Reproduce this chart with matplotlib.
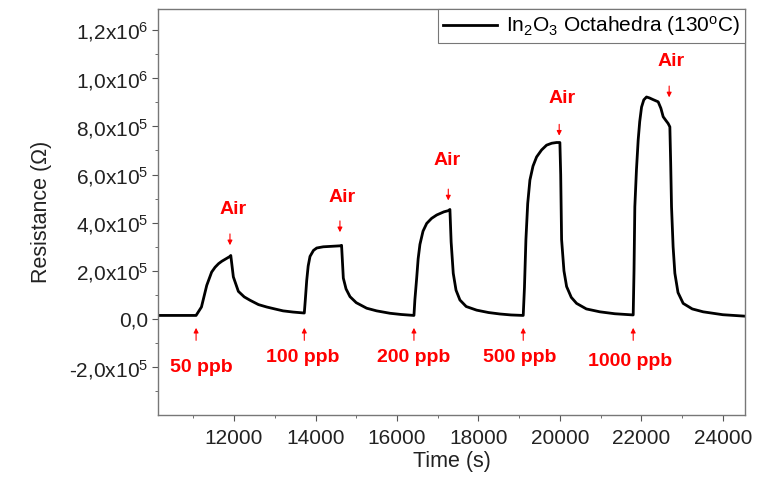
import numpy as np
import matplotlib
matplotlib.use("Agg")
import matplotlib.pyplot as plt

plt.rcParams['font.family'] = ['Liberation Sans', 'DejaVu Sans']
plt.rcParams['mathtext.fontset'] = 'custom'
plt.rcParams['mathtext.rm'] = 'Liberation Sans'
plt.rcParams['mathtext.it'] = 'Liberation Sans:italic'
plt.rcParams['mathtext.bf'] = 'Liberation Sans:bold'

# response curve
time = [10135, 11068, 11200, 11330, 11450, 11534, 11620, 11700, 11800, 11900, 11920,
        11983, 12106, 12250, 12393, 12600, 12802, 13000, 13203, 13450, 13725,
        13750, 13784, 13820, 13865, 13950, 14030, 14190, 14400, 14600, 14640,
        14683, 14750, 14847, 15000, 15256, 15500, 15828, 16100, 16417,
        16440, 16484, 16520, 16564, 16640, 16730, 16850, 16975, 17150, 17260, 17300,
        17330, 17382, 17450, 17546, 17700, 17955, 18250, 18528, 18800, 19100,
        19130, 19166, 19210, 19264, 19340, 19428, 19550, 19673, 19800, 19918, 20000,
        20020, 20042, 20100, 20165, 20280, 20410, 20650, 20982, 21350, 21800,
        21820, 21840, 21880, 21922, 21960, 22005, 22060, 22127, 22200, 22290, 22413,
        22480, 22536, 22600, 22658, 22700, 22720, 22741, 22780, 22823, 22900, 23027,
        23250, 23518, 24000, 24540]
resistance = [1.5e4, 1.5e4, 5e4, 1.4e5, 1.95e5, 2.15e5, 2.3e5, 2.4e5, 2.5e5, 2.6e5, 2.64e5,
              1.75e5, 1.15e5, 9.2e4, 7.8e4, 6e4, 5e4, 4.2e4, 3.4e4, 2.9e4, 2.5e4,
              8e4, 1.6e5, 2.2e5, 2.6e5, 2.85e5, 2.95e5, 3.0e5, 3.02e5, 3.04e5, 3.06e5,
              1.7e5, 1.25e5, 9.3e4, 6.8e4, 4.5e4, 3.4e4, 2.4e4, 1.9e4, 1.5e4,
              8e4, 1.7e5, 2.5e5, 3.1e5, 3.65e5, 3.97e5, 4.18e5, 4.32e5, 4.45e5, 4.5e5, 4.55e5,
              3.2e5, 1.9e5, 1.2e5, 7.9e4, 5.2e4, 3.7e4, 2.7e4, 2.1e4, 1.7e4, 1.5e4,
              1.3e5, 3.3e5, 4.8e5, 5.77e5, 6.35e5, 6.73e5, 7.02e5, 7.22e5, 7.3e5, 7.33e5, 7.33e5,
              6.0e5, 3.3e5, 2.0e5, 1.35e5, 9e4, 6.5e4, 4.2e4, 3e4, 2.2e4, 1.7e4,
              2.0e5, 4.66e5, 6.2e5, 7.43e5, 8.2e5, 8.8e5, 9.1e5, 9.22e5, 9.18e5, 9.11e5, 9.02e5,
              8.75e5, 8.4e5, 8.25e5, 8.12e5, 7.98e5, 6.5e5, 4.66e5, 3.0e5, 1.9e5, 1.1e5, 6.5e4,
              4.2e4, 3e4, 1.8e4, 1.2e4]

# gas-in markers
gas_labels = ['50 ppb', '100 ppb', '200 ppb', '500 ppb', '1000 ppb']
gas_arrow_x = [11068, 13725, 16417, 19100, 21800]
gas_text_x = [11190, 13693, 16417, 19018, 21718]
gas_text_y = [-2.03e5, -1.6e5, -1.6e5, -1.6e5, -1.75e5]

# air-in markers
air_arrow_x = [11900, 14600, 17260, 19983, 22683]
air_arrow_y = [2.95e5, 3.49e5, 4.81e5, 7.5e5, 9.09e5]
air_text_x = [11968, 14643, 17240, 20042, 22741]
air_text_y = [4.55e5, 5.05e5, 6.6e5, 9.16e5, 1.07e6]

yticks = [-2e5, 0, 2e5, 4e5, 6e5, 8e5, 1e6, 1.2e6]
ylabels = [r'-2,0x10$^{5}$', '0,0', r'2,0x10$^{5}$', r'4,0x10$^{5}$', r'6,0x10$^{5}$',
           r'8,0x10$^{5}$', r'1,0x10$^{6}$', r'1,2x10$^{6}$']
xticks = [12000, 14000, 16000, 18000, 20000, 22000, 24000]

fig = plt.figure(figsize=(7.6, 4.78), dpi=100)
ax = fig.add_axes([0.208, 0.132, 0.772, 0.849])

ax.plot(time, resistance, color='black', lw=2,
        label=r'In$_{2}$O$_{3}$ Octahedra (130$^{\mathrm{o}}$C)')

for lab, gx, tx, ty in zip(gas_labels, gas_arrow_x, gas_text_x, gas_text_y):
    ax.annotate('', xy=(gx, -2.5e4), xytext=(gx, -1.0e5),
                arrowprops=dict(arrowstyle='-|>', color='red', lw=0.8, mutation_scale=7))
    ax.text(tx, ty, lab, color='red', fontsize=14, fontweight='bold', ha='center', va='center')

for axx, axy, tx, ty in zip(air_arrow_x, air_arrow_y, air_text_x, air_text_y):
    ax.annotate('', xy=(axx, axy), xytext=(axx, axy + 7e4),
                arrowprops=dict(arrowstyle='-|>', color='red', lw=0.8, mutation_scale=7))
    ax.text(tx, ty, 'Air', color='red', fontsize=14, fontweight='bold', ha='center', va='center')

ax.set_xlim(10135, 24540)
ax.set_ylim(-3.98e5, 1.287e6)
ax.set_xticks(xticks)
ax.set_xticks(np.arange(11000, 24540, 1000), minor=True)
ax.set_yticks(yticks)
ax.set_yticklabels(ylabels)
ax.set_yticks(np.arange(-3e5, 1.287e6, 1e5), minor=True)

ax.tick_params(which='both', direction='out', colors='#555555', labelcolor='#222222', labelsize=15)
ax.tick_params(which='major', length=4)
ax.tick_params(which='minor', length=2.5)
ax.tick_params(axis='x', pad=6)
ax.tick_params(axis='y', pad=3)
for s in ax.spines.values():
    s.set_color('#777777')
    s.set_linewidth(1)

ax.set_xlabel('Time (s)', fontsize=15.5, color='#222222', labelpad=2)
ax.set_ylabel('Resistance (\u03a9)', fontsize=15.5, color='#222222', labelpad=12)

leg = ax.legend(loc='upper right', borderaxespad=0, fontsize=15, handlelength=2.6,
                fancybox=False, framealpha=1, borderpad=0.25, handletextpad=0.4)
leg.get_frame().set_edgecolor('#777777')
leg.get_frame().set_linewidth(0.8)

fig.savefig('out.png', dpi=100)
